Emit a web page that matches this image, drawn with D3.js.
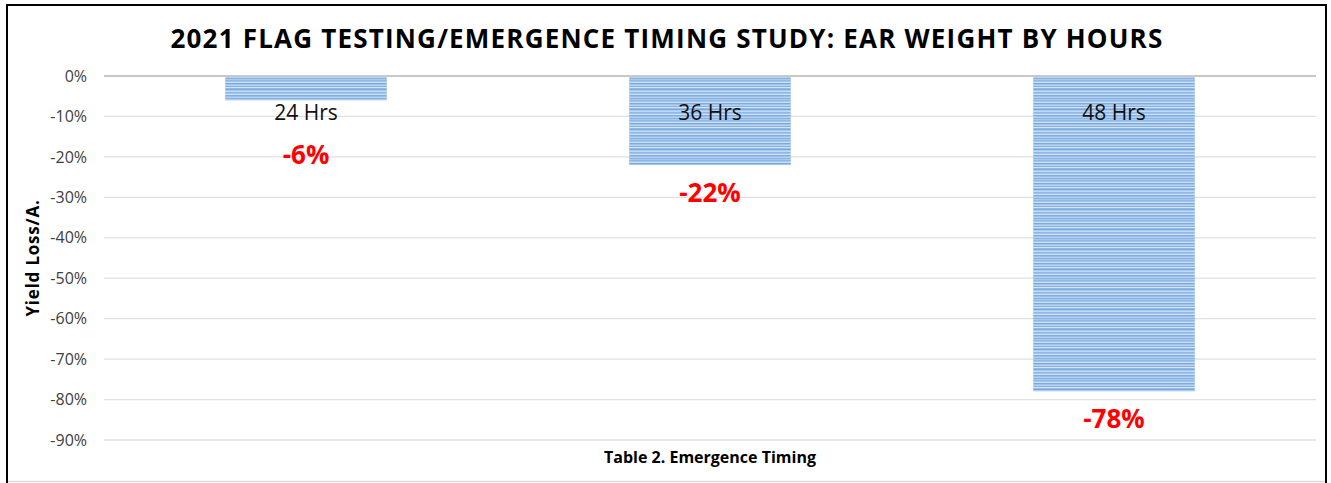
<!DOCTYPE html>
<html>
<head>
<meta charset="utf-8">
<script src="https://cdn.jsdelivr.net/npm/d3@7"></script>
<style>
  body { margin: 0; background: #fff; }
  svg { display: block; }
</style>
</head>
<body>
<svg width="1331" height="483"></svg>
<script>
"use strict";

// Data.

var Categories = ["24 Hrs", "36 Hrs", "48 Hrs"];
var YieldLoss = [-0.06, -0.22, -0.78];
var YTicks = [0, -0.1, -0.2, -0.3, -0.4, -0.5, -0.6, -0.7, -0.8, -0.9];

var Title = "2021 FLAG TESTING/EMERGENCE TIMING STUDY: EAR WEIGHT BY HOURS";
var YTitle = "Yield Loss/A.";
var XTitle = "Table 2. Emergence Timing";

// SVG.

var svg = d3.select("svg");
var width = +svg.attr("width");
var height = +svg.attr("height");

var Font = "'Open Sans', sans-serif";

var Left = 104, Right = 1316, Top = 76, Bottom = 440;

var x = d3.scaleBand().domain(Categories).range([Left, Right]).paddingInner(0.6).paddingOuter(0.3);
var y = d3.scaleLinear().domain([0, -0.9]).range([Top, Bottom]);

// Percent with a plain hyphen for the minus sign.
var pct = function(d){ return d3.format(".0%")(d).replace("\u2212", "-"); };

// Striped fill like the reference bars.

var defs = svg.append("defs");
var pat = defs.append("pattern")
    .attr("id", "stripes")
    .attr("patternUnits", "userSpaceOnUse")
    .attr("width", 10).attr("height", 20);
var StripeColors = ["#8cb6e4", "#a6c8ee", "#c8ddf4", "#7eaade", "#9fc3ea", "#b8d3f1", "#86b1e2",
                    "#d2e4f6", "#94bbe7", "#7ba8dd", "#abcbee", "#c0d8f3", "#8fb8e5", "#a0c4eb",
                    "#cde0f5", "#82aee0", "#9cc0e9", "#b4d0f0", "#88b3e3", "#a9c9ed"];
StripeColors.forEach(function(c, i){
    pat.append("rect").attr("x", 0).attr("y", i).attr("width", 10).attr("height", 1).attr("fill", c);
});

// Frame.

svg.append("rect")
    .attr("x", 7).attr("y", 5).attr("width", 1319).attr("height", 480)
    .attr("fill", "#fff").attr("stroke", "#000").attr("stroke-width", 2);
svg.append("line")
    .attr("x1", 8).attr("x2", 1325).attr("y1", 481.5).attr("y2", 481.5)
    .attr("stroke", "#d9d9d9").attr("stroke-width", 1.5);

// Grid lines.

svg.append("g").selectAll("line")
    .data(YTicks)
    .enter().append("line")
        .attr("x1", Left).attr("x2", Right)
        .attr("y1", function(d){ return y(d); })
        .attr("y2", function(d){ return y(d); })
        .attr("stroke", function(d){ return d === 0 ? "#c8c8c8" : "#e0e0e0"; })
        .attr("stroke-width", function(d){ return d === 0 ? 2 : 1.3; });

// Y axis labels.

var yAxis = d3.axisLeft(y).tickValues(YTicks).tickFormat(pct).tickSize(0).tickPadding(0);
var ya = svg.append("g").attr("transform", "translate(87,0)").call(yAxis);
ya.select(".domain").remove();
ya.selectAll("text")
    .attr("font-family", Font).attr("font-size", 16).attr("fill", "#404040");

// Bars.

svg.append("g").selectAll("rect")
    .data(YieldLoss)
    .enter().append("rect")
        .attr("x", function(d, i){ return x(Categories[i]); })
        .attr("y", y(0) + 1)
        .attr("width", x.bandwidth())
        .attr("height", function(d){ return y(d) - y(0) - 1; })
        .attr("fill", "url(#stripes)");

// Category labels.

svg.append("g").selectAll("text")
    .data(Categories)
    .enter().append("text")
        .attr("x", function(d){ return x(d) + x.bandwidth()/2; })
        .attr("y", 120)
        .attr("text-anchor", "middle")
        .attr("font-family", Font).attr("font-size", 21)
        .attr("fill", "#111")
        .text(function(d){ return d; });

// Value labels, pushed below category label when bar is short.

svg.append("g").selectAll("text")
    .data(YieldLoss)
    .enter().append("text")
        .attr("x", function(d, i){ return x(Categories[i]) + x.bandwidth()/2; })
        .attr("y", function(d){ return Math.max(y(d), 127) + 37; })
        .attr("text-anchor", "middle")
        .attr("font-family", Font).attr("font-size", 26).attr("font-weight", "bold")
        .attr("fill", "#ff0000")
        .text(pct);

// Titles.

svg.append("text")
    .attr("x", 667).attr("y", 48)
    .attr("text-anchor", "middle")
    .attr("font-family", Font).attr("font-size", 26).attr("font-weight", "bold")
    .attr("letter-spacing", 1.2)
    .attr("fill", "#000")
    .text(Title);

svg.append("text")
    .attr("transform", "translate(39,258) rotate(-90)")
    .attr("text-anchor", "middle")
    .attr("font-family", Font).attr("font-size", 17).attr("font-weight", "bold")
    .attr("letter-spacing", 0.8)
    .attr("fill", "#000")
    .text(YTitle);

svg.append("text")
    .attr("x", 710).attr("y", 463)
    .attr("text-anchor", "middle")
    .attr("font-family", Font).attr("font-size", 16).attr("font-weight", "bold")
    .attr("fill", "#000")
    .text(XTitle);
</script>
</body>
</html>
